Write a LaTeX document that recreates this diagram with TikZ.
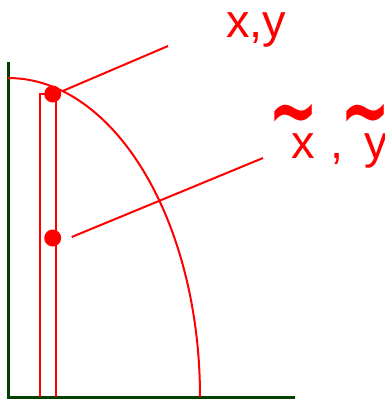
\documentclass[tikz,border=0pt]{standalone}
\usepackage{fontspec}
\setmainfont{Liberation Sans}
\newfontfamily\tldfont{DejaVu Sans}
\usetikzlibrary{positioning,calc}

\begin{document}
\begin{tikzpicture}[x=1pt, y=-1pt,
    axis/.style={line width=3pt, green!25!black},
    redline/.style={line width=2pt, red},
    dotmark/.style={circle, fill=red, inner sep=0pt, minimum size=17pt},
    lbl/.style={red, inner sep=0pt, font=\fontsize{47}{47}\selectfont},
    tld/.style={red, inner sep=0pt, font=\tldfont\bfseries\fontsize{46}{46}\selectfont}]

  \useasboundingbox (0,0) rectangle (385,400);

  %% Axes
  \coordinate (origin) at (8,397);
  \draw[axis] (8,62) -- (origin) -- (295,397);

  %% Quarter ellipse
  \draw[redline] (200,397) arc[start angle=0, end angle=-90,
                                x radius=192, y radius=319];

  %% Strip under the point
  \draw[redline] (40,397) -- (40,94) -- (55.5,94) -- (55.5,397);

  %% Points
  \node[dotmark] (dotA) at (52.7,94) {};
  \node[dotmark] (dotB) at (52.7,238) {};

  %% Labels
  \node[lbl, anchor=base west] (labA) at (226,37) {x,y};
  \node[lbl, anchor=base west] (labB) at (291,158) {x\,\,, \,y};
  \node[tld] (tldX) at (294,122) {\scalebox{1.3}[1.9]{\textasciitilde}};
  \node[tld] (tldY) at (366,122) {\scalebox{1.3}[1.9]{\textasciitilde}};

  %% Leaders
  \coordinate (endA) at (168,46);
  \coordinate (endB) at (263,158);
  \draw[redline] (dotA) ++(10,-3) -- (endA);
  \draw[redline] (dotB) ++(19,-1) -- (endB);
\end{tikzpicture}
\end{document}
